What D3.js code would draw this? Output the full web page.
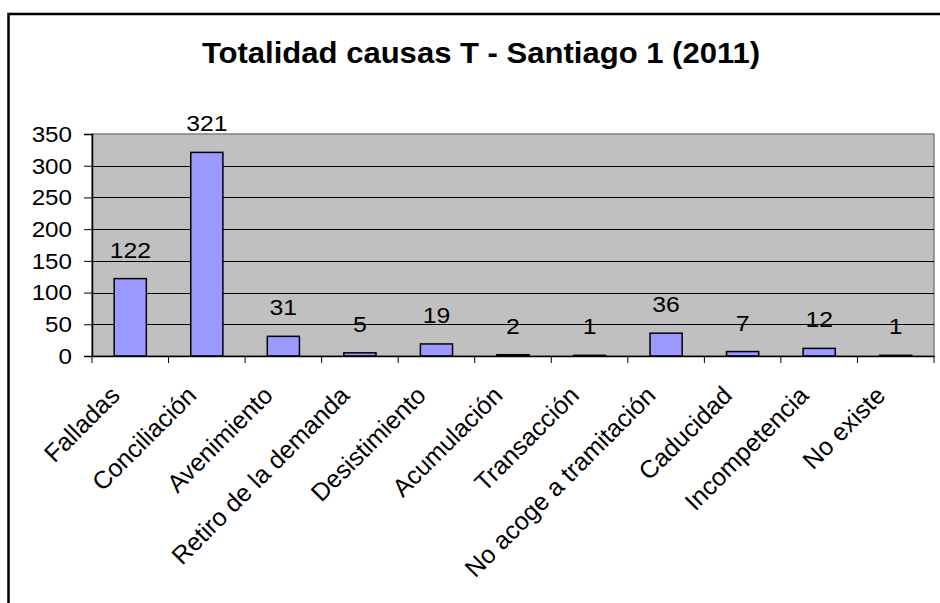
<!DOCTYPE html>
<html><head><meta charset="utf-8">
<script src="https://cdn.jsdelivr.net/npm/d3@7/dist/d3.min.js"></script>
<style>body{margin:0;background:#fff;} svg{display:block;} text{font-family:Arial,"Liberation Sans",sans-serif;}</style>
</head><body>
<svg id="c" width="940" height="603"></svg>
<script>
const categories = ["Falladas","Conciliación","Avenimiento","Retiro de la demanda","Desistimiento","Acumulación","Transacción","No acoge a tramitación","Caducidad","Incompetencia","No existe"];
const values = [122,321,31,5,19,2,1,36,7,12,1];
const yTicks = [0,50,100,150,200,250,300,350];
const title = "Totalidad causas T - Santiago 1 (2011)";

const svg = d3.select("#c");
const L=92, R=934, T=134, B=356;
const x = d3.scaleBand().domain(categories).range([L,R]).padding(0);
const y = d3.scaleLinear().domain([0,350]).range([B,T]);

// outer frame
svg.append("rect").attr("x",8.5).attr("y",14).attr("width",960).attr("height",620)
  .attr("fill","#fff").attr("stroke","#000").attr("stroke-width",2.5);

svg.append("text").attr("transform","translate(481,63) scale(1.035,1)").attr("text-anchor","middle")
  .attr("font-size",30).attr("font-weight","bold").text(title);

// plot area
svg.append("rect").attr("x",L).attr("y",T).attr("width",R-L).attr("height",B-T)
  .attr("fill","#C0C0C0").attr("stroke","#808080").attr("stroke-width",1.5);

// gridlines
svg.append("g").selectAll("line").data(yTicks.filter(d=>d>0&&d<350)).join("line")
  .attr("x1",L).attr("x2",R).attr("y1",d=>Math.round(y(d))+0.5).attr("y2",d=>Math.round(y(d))+0.5)
  .attr("stroke","#000").attr("stroke-width",1);

// bars
const bw = x.bandwidth()*0.42;
svg.append("g").selectAll("rect").data(values).join("rect")
  .attr("x",(d,i)=>x(categories[i])+x.bandwidth()/2-bw/2)
  .attr("y",d=>y(d)).attr("width",bw).attr("height",d=>B-y(d))
  .attr("fill","#9999FF").attr("stroke","#000").attr("stroke-width",1.5);

// data labels
svg.append("g").selectAll("text").data(values).join("text")
  .attr("transform",(d,i)=>`translate(${x(categories[i])+x.bandwidth()/2},${y(d)-21}) scale(1.1,1)`)
  .attr("text-anchor","middle").attr("font-size",22.5).text(d=>d);

// y axis
const ya = svg.append("g").attr("transform",`translate(${L},0)`)
  .call(d3.axisLeft(y).tickValues(yTicks).tickSize(8).tickPadding(0).tickFormat(""));
ya.select(".domain").attr("stroke","#000").attr("stroke-width",1.5);
ya.selectAll(".tick line").attr("stroke","#000");
svg.append("g").selectAll("text").data(yTicks).join("text")
  .attr("transform",d=>`translate(72,${y(d)}) scale(1.1,1)`)
  .attr("text-anchor","end").attr("dy","0.36em").attr("font-size",22).text(d=>d);

// x axis
const xa = svg.append("g").attr("transform",`translate(0,${B})`)
  .call(d3.axisBottom(x).tickSize(0).tickFormat(""));
xa.select(".domain").attr("stroke","#000").attr("stroke-width",1.5);
const bounds = categories.map(c=>x(c)).concat([x.range()[1]]);
svg.append("g").selectAll("line").data(bounds).join("line")
  .attr("x1",d=>d).attr("x2",d=>d).attr("y1",B).attr("y2",B+7).attr("stroke","#000");

svg.append("g").selectAll("text").data(categories).join("text")
  .attr("transform",c=>`translate(${x(c)+x.bandwidth()/2-9},397) rotate(-45)`)
  .attr("text-anchor","end").attr("font-size",25).text(c=>c);
</script>
</body></html>
